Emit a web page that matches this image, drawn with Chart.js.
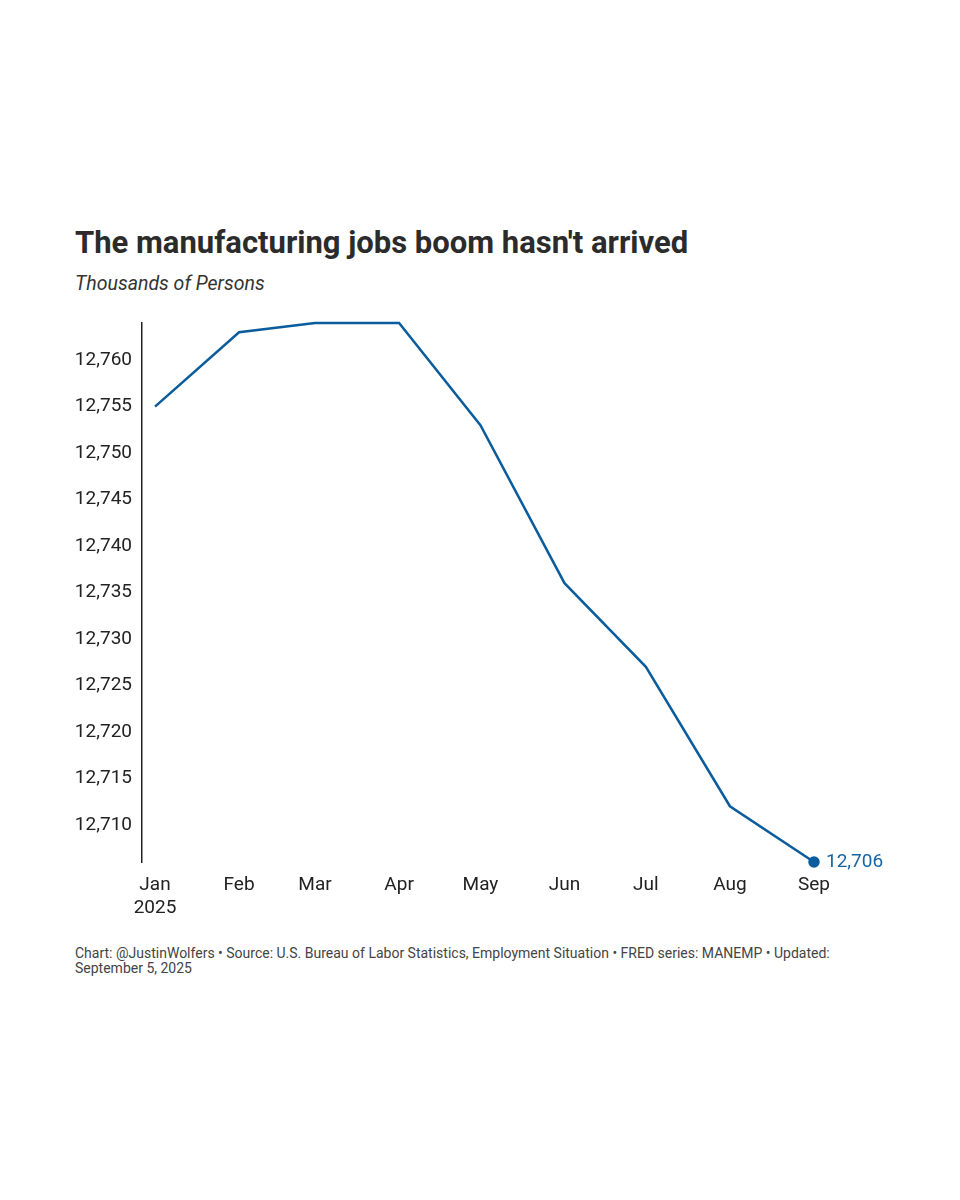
<!DOCTYPE html>
<html>
<head>
<meta charset="utf-8">
<script src="https://cdn.jsdelivr.net/npm/chart.js@4"></script>
<style>
  body { margin: 0; background: #fff; width: 960px; height: 1200px; position: relative; font-family: Roboto, sans-serif; }
  #title { position: absolute; left: 75px; top: 227px; font-size: 31px; line-height: 1; font-weight: 700; color: #2b2b2b; white-space: nowrap; }
  #subtitle { position: absolute; left: 75px; top: 274px; font-size: 19.5px; line-height: 1; font-style: italic; color: #333; white-space: nowrap; }
  #chart { position: absolute; left: 0; top: 300px; }
  #footer { position: absolute; left: 75px; top: 946px; width: 790px; font-size: 14px; line-height: 15px; color: #444; }
</style>
</head>
<body>
<div id="title">The manufacturing jobs boom hasn't arrived</div>
<div id="subtitle">Thousands of Persons</div>
<canvas id="chart" width="960" height="640"></canvas>
<div id="footer">Chart: @JustinWolfers • Source: U.S. Bureau of Labor Statistics, Employment Situation • FRED series: MANEMP • Updated: September 5, 2025</div>
<script>
// months of 2025, placed by day offset from Jan 1
const monthLabels = ['Jan', 'Feb', 'Mar', 'Apr', 'May', 'Jun', 'Jul', 'Aug', 'Sep'];
const monthDays = [0, 31, 59, 90, 120, 151, 181, 212, 243];
const employment = [12755, 12763, 12764, 12764, 12753, 12736, 12727, 12712, 12706];
const yTicks = [12710, 12715, 12720, 12725, 12730, 12735, 12740, 12745, 12750, 12755, 12760];

const lineColor = '#0b5c9c';
const lastIdx = employment.length - 1;

const endLabel = {
    id: 'endLabel',
    afterDatasetsDraw(chart) {
        const pt = chart.getDatasetMeta(0).data[lastIdx];
        const ctx = chart.ctx;
        ctx.save();
        ctx.font = '19px Roboto';
        ctx.fillStyle = '#1764a3';
        ctx.textAlign = 'left';
        ctx.textBaseline = 'middle';
        ctx.fillText(employment[lastIdx].toLocaleString('en-US'), pt.x + 12, pt.y);
        ctx.restore();
    }
};

const ctx = document.getElementById('chart').getContext('2d');
new Chart(ctx, {
    type: 'line',
    data: {
        datasets: [{
            data: monthDays.map((d, i) => ({ x: d, y: employment[i] })),
            borderColor: lineColor,
            backgroundColor: lineColor,
            borderWidth: 2.5,
            tension: 0,
            clip: false,
            pointRadius: c => c.dataIndex === lastIdx ? 4.5 : 0,
            pointHoverRadius: 0
        }]
    },
    options: {
        responsive: false,
        animation: false,
        devicePixelRatio: 1,
        layout: { padding: { top: 23, right: 146, left: 0, bottom: 0 } },
        plugins: { legend: { display: false }, tooltip: { enabled: false } },
        scales: {
            x: {
                type: 'linear',
                min: -4.8,
                max: 243,
                grid: { display: false },
                border: { display: false },
                afterBuildTicks: s => { s.ticks = monthDays.map(v => ({ value: v })); },
                afterFit: s => { s.height = 78; },
                ticks: {
                    padding: 4,
                    color: '#222',
                    font: { family: 'Roboto', size: 19 },
                    maxRotation: 0,
                    autoSkip: false,
                    callback: (v, i) => i === 0 ? [monthLabels[i], '2025'] : monthLabels[i]
                }
            },
            y: {
                min: 12706,
                max: 12764,
                grid: { display: false },
                border: { display: true, color: '#222', width: 1.5 },
                afterBuildTicks: s => { s.ticks = yTicks.map(v => ({ value: v })); },
                afterFit: s => { s.width = 142; },
                ticks: {
                    padding: 2,
                    color: '#222',
                    font: { family: 'Roboto', size: 19 },
                    callback: v => v.toLocaleString('en-US')
                }
            }
        }
    },
    plugins: [endLabel]
});
</script>
</body>
</html>
